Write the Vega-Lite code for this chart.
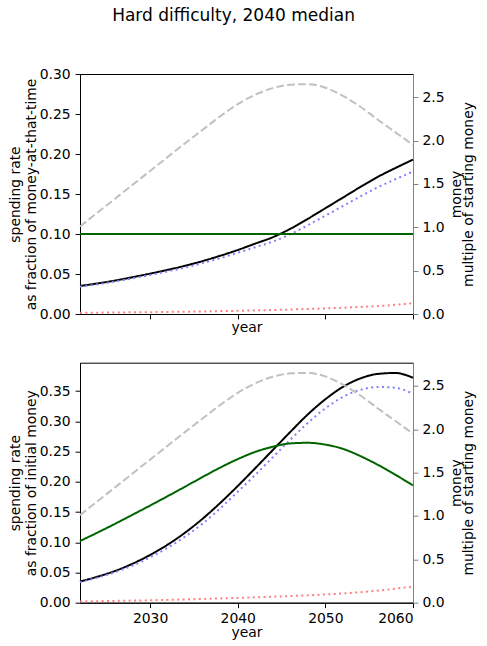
{
  "$schema": "https://vega.github.io/schema/vega-lite/v6.json",
  "description": "Two panels of spending rate (left axis) and money (right axis) by year, hard difficulty, 2040 median.",
  "autosize": {"type": "none"},
  "padding": {"left": 80, "top": 74, "right": 407, "bottom": 572},
  "title": {
    "text": "Hard difficulty, 2040 median",
    "fontSize": 17,
    "fontWeight": "normal",
    "font": "DejaVu Sans",
    "color": "black",
    "anchor": "middle",
    "offset": 42,
    "dx": -8
  },
  "datasets": {
    "top": [
      {"year": 2022, "series": "black", "rate": 0.035},
      {"year": 2024, "series": "black", "rate": 0.0382},
      {"year": 2026, "series": "black", "rate": 0.0418},
      {"year": 2028, "series": "black", "rate": 0.046},
      {"year": 2030, "series": "black", "rate": 0.0504},
      {"year": 2032, "series": "black", "rate": 0.0552},
      {"year": 2034, "series": "black", "rate": 0.0603},
      {"year": 2036, "series": "black", "rate": 0.0662},
      {"year": 2038, "series": "black", "rate": 0.0728},
      {"year": 2040, "series": "black", "rate": 0.080},
      {"year": 2042, "series": "black", "rate": 0.088},
      {"year": 2044, "series": "black", "rate": 0.096},
      {"year": 2046, "series": "black", "rate": 0.1065},
      {"year": 2048, "series": "black", "rate": 0.119},
      {"year": 2050, "series": "black", "rate": 0.1322},
      {"year": 2052, "series": "black", "rate": 0.1455},
      {"year": 2054, "series": "black", "rate": 0.1588},
      {"year": 2056, "series": "black", "rate": 0.1715},
      {"year": 2058, "series": "black", "rate": 0.1825},
      {"year": 2060, "series": "black", "rate": 0.193},
      {"year": 2022, "series": "blue", "rate": 0.034},
      {"year": 2024, "series": "blue", "rate": 0.0372},
      {"year": 2026, "series": "blue", "rate": 0.0406},
      {"year": 2028, "series": "blue", "rate": 0.0446},
      {"year": 2030, "series": "blue", "rate": 0.0488},
      {"year": 2032, "series": "blue", "rate": 0.0533},
      {"year": 2034, "series": "blue", "rate": 0.0581},
      {"year": 2036, "series": "blue", "rate": 0.0636},
      {"year": 2038, "series": "blue", "rate": 0.0698},
      {"year": 2040, "series": "blue", "rate": 0.0765},
      {"year": 2042, "series": "blue", "rate": 0.0835},
      {"year": 2044, "series": "blue", "rate": 0.0905},
      {"year": 2046, "series": "blue", "rate": 0.0998},
      {"year": 2048, "series": "blue", "rate": 0.111},
      {"year": 2050, "series": "blue", "rate": 0.1229},
      {"year": 2052, "series": "blue", "rate": 0.1349},
      {"year": 2054, "series": "blue", "rate": 0.147},
      {"year": 2056, "series": "blue", "rate": 0.1585},
      {"year": 2058, "series": "blue", "rate": 0.1685},
      {"year": 2060, "series": "blue", "rate": 0.178},
      {"year": 2022, "series": "red", "rate": 0.0015},
      {"year": 2024, "series": "red", "rate": 0.0017},
      {"year": 2026, "series": "red", "rate": 0.0019},
      {"year": 2028, "series": "red", "rate": 0.0021},
      {"year": 2030, "series": "red", "rate": 0.0023},
      {"year": 2032, "series": "red", "rate": 0.0026},
      {"year": 2034, "series": "red", "rate": 0.0029},
      {"year": 2036, "series": "red", "rate": 0.0032},
      {"year": 2038, "series": "red", "rate": 0.0036},
      {"year": 2040, "series": "red", "rate": 0.0040},
      {"year": 2042, "series": "red", "rate": 0.0045},
      {"year": 2044, "series": "red", "rate": 0.0050},
      {"year": 2046, "series": "red", "rate": 0.0056},
      {"year": 2048, "series": "red", "rate": 0.0063},
      {"year": 2050, "series": "red", "rate": 0.0070},
      {"year": 2052, "series": "red", "rate": 0.0078},
      {"year": 2054, "series": "red", "rate": 0.0088},
      {"year": 2056, "series": "red", "rate": 0.0099},
      {"year": 2058, "series": "red", "rate": 0.0115},
      {"year": 2060, "series": "red", "rate": 0.0135},
      {"year": 2022, "series": "green", "rate": 0.1},
      {"year": 2060, "series": "green", "rate": 0.1}
    ],
    "bottom": [
      {"year": 2022, "series": "black", "rate": 0.035},
      {"year": 2024, "series": "black", "rate": 0.043},
      {"year": 2026, "series": "black", "rate": 0.0525},
      {"year": 2028, "series": "black", "rate": 0.0645},
      {"year": 2030, "series": "black", "rate": 0.079},
      {"year": 2032, "series": "black", "rate": 0.096},
      {"year": 2034, "series": "black", "rate": 0.116},
      {"year": 2036, "series": "black", "rate": 0.139},
      {"year": 2038, "series": "black", "rate": 0.165},
      {"year": 2040, "series": "black", "rate": 0.193},
      {"year": 2042, "series": "black", "rate": 0.2225},
      {"year": 2044, "series": "black", "rate": 0.2525},
      {"year": 2046, "series": "black", "rate": 0.2825},
      {"year": 2048, "series": "black", "rate": 0.3115},
      {"year": 2050, "series": "black", "rate": 0.3365},
      {"year": 2052, "series": "black", "rate": 0.357},
      {"year": 2054, "series": "black", "rate": 0.371},
      {"year": 2056, "series": "black", "rate": 0.3785},
      {"year": 2058, "series": "black", "rate": 0.380},
      {"year": 2060, "series": "black", "rate": 0.372},
      {"year": 2022, "series": "blue", "rate": 0.034},
      {"year": 2024, "series": "blue", "rate": 0.0415},
      {"year": 2026, "series": "blue", "rate": 0.0505},
      {"year": 2028, "series": "blue", "rate": 0.0615},
      {"year": 2030, "series": "blue", "rate": 0.075},
      {"year": 2032, "series": "blue", "rate": 0.091},
      {"year": 2034, "series": "blue", "rate": 0.1095},
      {"year": 2036, "series": "blue", "rate": 0.131},
      {"year": 2038, "series": "blue", "rate": 0.156},
      {"year": 2040, "series": "blue", "rate": 0.1835},
      {"year": 2042, "series": "blue", "rate": 0.2115},
      {"year": 2044, "series": "blue", "rate": 0.2405},
      {"year": 2046, "series": "blue", "rate": 0.2695},
      {"year": 2048, "series": "blue", "rate": 0.2975},
      {"year": 2050, "series": "blue", "rate": 0.3215},
      {"year": 2052, "series": "blue", "rate": 0.3405},
      {"year": 2054, "series": "blue", "rate": 0.352},
      {"year": 2056, "series": "blue", "rate": 0.357},
      {"year": 2058, "series": "blue", "rate": 0.3555},
      {"year": 2060, "series": "blue", "rate": 0.3455},
      {"year": 2022, "series": "red", "rate": 0.0020},
      {"year": 2024, "series": "red", "rate": 0.0025},
      {"year": 2026, "series": "red", "rate": 0.0030},
      {"year": 2028, "series": "red", "rate": 0.0035},
      {"year": 2030, "series": "red", "rate": 0.0040},
      {"year": 2032, "series": "red", "rate": 0.0047},
      {"year": 2034, "series": "red", "rate": 0.0054},
      {"year": 2036, "series": "red", "rate": 0.0062},
      {"year": 2038, "series": "red", "rate": 0.0071},
      {"year": 2040, "series": "red", "rate": 0.0080},
      {"year": 2042, "series": "red", "rate": 0.0089},
      {"year": 2044, "series": "red", "rate": 0.0099},
      {"year": 2046, "series": "red", "rate": 0.0110},
      {"year": 2048, "series": "red", "rate": 0.0122},
      {"year": 2050, "series": "red", "rate": 0.0136},
      {"year": 2052, "series": "red", "rate": 0.0153},
      {"year": 2054, "series": "red", "rate": 0.0174},
      {"year": 2056, "series": "red", "rate": 0.0199},
      {"year": 2058, "series": "red", "rate": 0.0232},
      {"year": 2060, "series": "red", "rate": 0.0270},
      {"year": 2022, "series": "green", "rate": 0.102},
      {"year": 2024, "series": "green", "rate": 0.116},
      {"year": 2026, "series": "green", "rate": 0.1305},
      {"year": 2028, "series": "green", "rate": 0.1455},
      {"year": 2030, "series": "green", "rate": 0.1607},
      {"year": 2032, "series": "green", "rate": 0.1762},
      {"year": 2034, "series": "green", "rate": 0.192},
      {"year": 2036, "series": "green", "rate": 0.208},
      {"year": 2038, "series": "green", "rate": 0.2235},
      {"year": 2040, "series": "green", "rate": 0.2375},
      {"year": 2042, "series": "green", "rate": 0.2495},
      {"year": 2044, "series": "green", "rate": 0.258},
      {"year": 2046, "series": "green", "rate": 0.2635},
      {"year": 2048, "series": "green", "rate": 0.2645},
      {"year": 2050, "series": "green", "rate": 0.2615},
      {"year": 2052, "series": "green", "rate": 0.2545},
      {"year": 2054, "series": "green", "rate": 0.2425},
      {"year": 2056, "series": "green", "rate": 0.228},
      {"year": 2058, "series": "green", "rate": 0.2115},
      {"year": 2060, "series": "green", "rate": 0.194}
    ],
    "money": [
      {"year": 2022, "money": 1.01},
      {"year": 2024, "money": 1.17},
      {"year": 2026, "money": 1.33},
      {"year": 2028, "money": 1.49},
      {"year": 2030, "money": 1.65},
      {"year": 2032, "money": 1.81},
      {"year": 2034, "money": 1.97},
      {"year": 2036, "money": 2.125},
      {"year": 2038, "money": 2.28},
      {"year": 2040, "money": 2.42},
      {"year": 2042, "money": 2.53},
      {"year": 2044, "money": 2.605},
      {"year": 2046, "money": 2.645},
      {"year": 2048, "money": 2.65},
      {"year": 2050, "money": 2.61},
      {"year": 2052, "money": 2.515},
      {"year": 2054, "money": 2.39},
      {"year": 2056, "money": 2.24},
      {"year": 2058, "money": 2.095},
      {"year": 2060, "money": 1.95}
    ]
  },
  "vconcat": [
    {
      "width": 333,
      "height": 240,
      "layer": [
        {
          "data": {"name": "top"},
          "mark": {"type": "line", "strokeWidth": 2, "interpolate": "monotone"},
          "encoding": {
            "x": {
              "field": "year",
              "type": "quantitative",
              "scale": {"domain": [2022, 2060], "nice": false, "zero": false},
              "axis": {"values": [2030, 2040, 2050, 2060], "labels": false, "title": "year", "titleY": 17, "titleBaseline": "alphabetic"}
            },
            "y": {
              "field": "rate",
              "type": "quantitative",
              "scale": {"domain": [0, 0.3], "nice": false},
              "axis": {
                "values": [0, 0.05, 0.1, 0.15, 0.2, 0.25, 0.3],
                "format": ".2f",
                "title": ["spending rate", "as fraction of money-at-that-time"],
                "titleAngle": -90,
                "titleX": -61,
                "titleY": 120,
                "titleAlign": "center",
                "titleBaseline": "alphabetic",
                "titleLineHeight": 16
              }
            },
            "color": {
              "field": "series",
              "type": "nominal",
              "scale": {"domain": ["black", "blue", "red", "green"], "range": ["#000000", "#8080ff", "#ff8080", "#006400"]},
              "legend": null
            },
            "strokeDash": {
              "field": "series",
              "type": "nominal",
              "scale": {"domain": ["black", "blue", "red", "green"], "range": [[1, 0], [2, 3.4], [2, 3.4], [1, 0]]},
              "legend": null
            }
          }
        },
        {
          "data": {"name": "money"},
          "mark": {"type": "line", "strokeWidth": 2, "interpolate": "monotone", "color": "#c0c0c0", "strokeDash": [7.7, 3.3]},
          "encoding": {
            "x": {"field": "year", "type": "quantitative"},
            "y": {
              "field": "money",
              "type": "quantitative",
              "scale": {"domain": [0, 2.768], "nice": false},
              "axis": {
                "orient": "right",
                "values": [0, 0.5, 1, 1.5, 2, 2.5],
                "format": ".1f",
                "domainColor": "#808080",
                "tickColor": "#808080",
                "labelPadding": 4,
                "title": ["money", "multiple of starting money"],
                "titleAngle": -90,
                "titleX": 47.7,
                "titleY": 120,
                "titleAlign": "center",
                "titleBaseline": "alphabetic",
                "titleLineHeight": 11.5
              }
            }
          }
        }
      ],
      "resolve": {"scale": {"y": "independent"}}
    },
    {
      "width": 333,
      "height": 240,
      "layer": [
        {
          "data": {"name": "bottom"},
          "mark": {"type": "line", "strokeWidth": 2, "interpolate": "monotone"},
          "encoding": {
            "x": {
              "field": "year",
              "type": "quantitative",
              "scale": {"domain": [2022, 2060], "nice": false, "zero": false},
              "axis": {"values": [2030, 2040, 2050, 2060], "format": "d", "labelPadding": 4, "title": "year", "titleY": 33.3, "titleBaseline": "alphabetic"}
            },
            "y": {
              "field": "rate",
              "type": "quantitative",
              "scale": {"domain": [0, 0.397], "nice": false},
              "axis": {
                "values": [0, 0.05, 0.1, 0.15, 0.2, 0.25, 0.3, 0.35],
                "format": ".2f",
                "title": ["spending rate", "as fraction of initial money"],
                "titleAngle": -90,
                "titleX": -61,
                "titleY": 120,
                "titleAlign": "center",
                "titleBaseline": "alphabetic",
                "titleLineHeight": 16
              }
            },
            "color": {
              "field": "series",
              "type": "nominal",
              "scale": {"domain": ["black", "blue", "red", "green"], "range": ["#000000", "#8080ff", "#ff8080", "#006400"]},
              "legend": null
            },
            "strokeDash": {
              "field": "series",
              "type": "nominal",
              "scale": {"domain": ["black", "blue", "red", "green"], "range": [[1, 0], [2, 3.4], [2, 3.4], [1, 0]]},
              "legend": null
            }
          }
        },
        {
          "data": {"name": "money"},
          "mark": {"type": "line", "strokeWidth": 2, "interpolate": "monotone", "color": "#c0c0c0", "strokeDash": [7.7, 3.3]},
          "encoding": {
            "x": {"field": "year", "type": "quantitative"},
            "y": {
              "field": "money",
              "type": "quantitative",
              "scale": {"domain": [0, 2.768], "nice": false},
              "axis": {
                "orient": "right",
                "values": [0, 0.5, 1, 1.5, 2, 2.5],
                "format": ".1f",
                "domainColor": "#808080",
                "tickColor": "#808080",
                "labelPadding": 4,
                "title": ["money", "multiple of starting money"],
                "titleAngle": -90,
                "titleX": 47.7,
                "titleY": 120,
                "titleAlign": "center",
                "titleBaseline": "alphabetic",
                "titleLineHeight": 11.5
              }
            }
          }
        }
      ],
      "resolve": {"scale": {"y": "independent"}}
    }
  ],
  "spacing": 48.7,
  "bounds": "flush",
  "config": {
    "font": "DejaVu Sans",
    "view": {"stroke": "black", "strokeWidth": 1},
    "axis": {
      "grid": false,
      "labelFont": "DejaVu Sans",
      "labelFontSize": 13.9,
      "labelColor": "black",
      "titleFont": "DejaVu Sans",
      "titleFontSize": 13.9,
      "titleFontWeight": "normal",
      "titleColor": "black",
      "tickColor": "black",
      "domainColor": "black",
      "tickSize": 4.9,
      "labelPadding": 4.9
    }
  }
}
